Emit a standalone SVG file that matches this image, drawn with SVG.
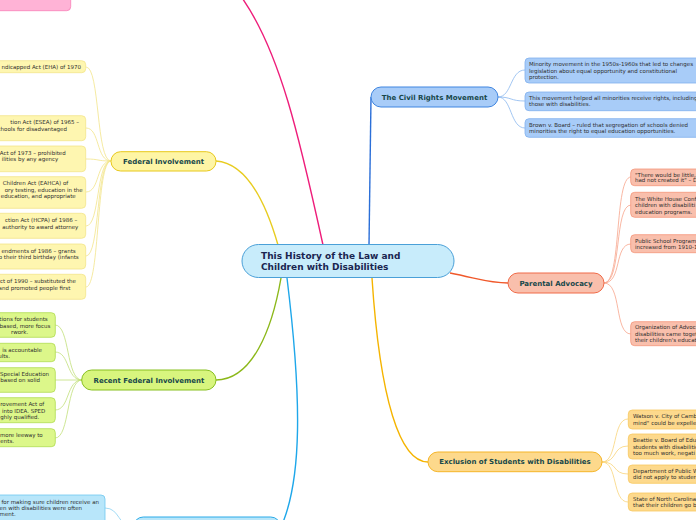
<svg xmlns="http://www.w3.org/2000/svg" width="696" height="520" viewBox="0 0 696 520">
<style>
.leaf{font-family:"DejaVu Sans",Verdana,sans-serif;font-size:5.5px;fill:#2e2e2e}
.br{font-family:"DejaVu Sans",Verdana,sans-serif;font-size:7px;font-weight:bold;fill:#17474a;text-anchor:middle}
.ctr{font-family:"DejaVu Sans",Verdana,sans-serif;font-size:9px;font-weight:bold;fill:#1a2550}
.e{text-anchor:end}
path{fill:none}
</style>
<rect width="696" height="520" fill="#ffffff"/>
<g id="connectors">
  <path d="M323,245 C300,140 280,50 240,-5" stroke="#ee1d7a" stroke-width="1.4"/>
  <path d="M369,245 C370,180 371,130 371,97" stroke="#2b6fd8" stroke-width="1.4"/>
  <path d="M278,245 C265,200 245,163 216,161" stroke="#e8cc20" stroke-width="1.4"/>
  <path d="M281,278 C272,330 252,380 216,380" stroke="#8cb81a" stroke-width="1.4"/>
  <path d="M287,278 C302,400 302,480 281,527" stroke="#1ea7ea" stroke-width="1.4"/>
  <path d="M372,278 C380,400 400,462 428,462" stroke="#f5b400" stroke-width="1.4"/>
  <path d="M450,273 C480,279 490,283 508,283" stroke="#f0582a" stroke-width="1.4"/>
  <g stroke="#8ab8ef" stroke-width="0.8">
    <path d="M498,97 C512,97 510,70 525,70"/>
    <path d="M498,97 C512,97 510,101 525,101"/>
    <path d="M498,97 C512,97 510,128 525,128"/>
  </g>
  <g stroke="#f7a58c" stroke-width="0.8">
    <path d="M604,283 C622,283 614,177 631,177"/>
    <path d="M604,283 C622,283 614,205 631,205"/>
    <path d="M604,283 C622,283 614,244 631,244"/>
    <path d="M604,283 C622,283 614,334 631,334"/>
  </g>
  <g stroke="#f9d47a" stroke-width="0.8">
    <path d="M602,462 C618,462 612,419 628,419"/>
    <path d="M602,462 C618,462 612,446 628,446"/>
    <path d="M602,462 C618,462 612,474 628,474"/>
    <path d="M602,462 C618,462 612,502 628,502"/>
  </g>
  <g stroke="#f3e58a" stroke-width="0.8">
    <path d="M111,161 C96,161 100,67 86,67"/>
    <path d="M111,161 C96,161 100,128 86,128"/>
    <path d="M111,161 C96,161 100,159 86,159"/>
    <path d="M111,161 C96,161 100,192 86,192"/>
    <path d="M111,161 C96,161 100,226 86,226"/>
    <path d="M111,161 C96,161 100,256 86,256"/>
    <path d="M111,161 C96,161 100,287 86,287"/>
  </g>
  <g stroke="#c2e07a" stroke-width="0.8">
    <path d="M82,380 C66,380 70,325 55,325"/>
    <path d="M82,380 C66,380 70,352 55,352"/>
    <path d="M82,380 H55"/>
    <path d="M82,380 C66,380 70,410 55,410"/>
    <path d="M82,380 C66,380 70,438 55,438"/>
  </g>
  <path d="M133,527 C118,527 120,508 105,508" stroke="#8ad2f2" stroke-width="0.8"/>
</g>

<g id="top-pink-leaf"><rect x="-50" y="-20" width="120.7" height="30.7" rx="4" fill="#ffb3d6" stroke="#f77fb8" stroke-width="0.8"/></g>

<g id="central">
  <rect x="242" y="244.5" width="212" height="33" rx="16.5" fill="#c8ecfb" stroke="#4aa0d8" stroke-width="1"/>
  <text class="ctr" x="261" y="259.3">This History of the Law and</text>
  <text class="ctr" x="261" y="269.6">Children with Disabilities</text>
</g>

<g id="civil-rights">
  <rect x="371" y="87" width="127" height="20" rx="10" fill="#a8ccf8" stroke="#3f85e0" stroke-width="1"/>
  <text class="br" x="434.5" y="99.5">The Civil Rights Movement</text>
</g>
<g id="civil-1">
  <rect x="525" y="58" width="200" height="25" rx="4" fill="#a8ccf8" stroke="#80b0ee" stroke-width="0.8"/>
  <text class="leaf" x="529" y="65.8">Minority movement in the 1950s-1960s that led to changes</text>
  <text class="leaf" x="529" y="72.5">legislation about equal opportunity and constitutional</text>
  <text class="leaf" x="529" y="79.1">protection.</text>
</g>
<g id="civil-2">
  <rect x="525" y="92" width="200" height="18.7" rx="4" fill="#a8ccf8" stroke="#80b0ee" stroke-width="0.8"/>
  <text class="leaf" x="529" y="99.5">This movement helped all minorities receive rights, including</text>
  <text class="leaf" x="529" y="106.1">those with disabilities.</text>
</g>
<g id="civil-3">
  <rect x="525" y="118.7" width="200" height="18.6" rx="4" fill="#a8ccf8" stroke="#80b0ee" stroke-width="0.8"/>
  <text class="leaf" x="529" y="126.5">Brown v. Board – ruled that segregation of schools denied</text>
  <text class="leaf" x="529" y="133.1">minorities the right to equal education opportunities.</text>
</g>

<g id="parental">
  <rect x="508" y="273" width="96" height="20" rx="10" fill="#f9bfac" stroke="#f06a48" stroke-width="1"/>
  <text class="br" x="556" y="285.5">Parental Advocacy</text>
</g>
<g id="parental-1">
  <rect x="630.7" y="169" width="100" height="16.7" rx="4" fill="#f9bfac" stroke="#f4967a" stroke-width="0.8"/>
  <text class="leaf" x="635" y="176.5">"There would be little,</text>
  <text class="leaf" x="635" y="181.8">had not created it" – D</text>
</g>
<g id="parental-2">
  <rect x="630.7" y="192.3" width="100" height="25" rx="4" fill="#f9bfac" stroke="#f4967a" stroke-width="0.8"/>
  <text class="leaf" x="635" y="200.5">The White House Conf</text>
  <text class="leaf" x="635" y="207.1">children with disabiliti</text>
  <text class="leaf" x="635" y="213.8">education programs.</text>
</g>
<g id="parental-3">
  <rect x="630.7" y="234.7" width="100" height="18" rx="4" fill="#f9bfac" stroke="#f4967a" stroke-width="0.8"/>
  <text class="leaf" x="635" y="242.5">Public School Program</text>
  <text class="leaf" x="635" y="248.5">increased from 1910-1</text>
</g>
<g id="parental-4">
  <rect x="630.7" y="321.7" width="100" height="24" rx="4" fill="#f9bfac" stroke="#f4967a" stroke-width="0.8"/>
  <text class="leaf" x="635" y="329.1">Organization of Advoc</text>
  <text class="leaf" x="635" y="335.8">disabilities came toget</text>
  <text class="leaf" x="635" y="342.1">their children's educat</text>
</g>

<g id="exclusion">
  <rect x="428" y="452" width="174" height="19.7" rx="9.8" fill="#fdd98c" stroke="#f5b529" stroke-width="1"/>
  <text class="br" x="515" y="464.2">Exclusion of Students with Disabilities</text>
</g>
<g id="exclusion-1">
  <rect x="628.3" y="410" width="100" height="19" rx="4" fill="#fdd98c" stroke="#f7c860" stroke-width="0.8"/>
  <text class="leaf" x="633" y="417.8">Watson v. City of Camb</text>
  <text class="leaf" x="633" y="424.5">mind" could be expelle</text>
</g>
<g id="exclusion-2">
  <rect x="628.3" y="434" width="100" height="25" rx="4" fill="#fdd98c" stroke="#f7c860" stroke-width="0.8"/>
  <text class="leaf" x="633" y="442.1">Beattie v. Board of Edu</text>
  <text class="leaf" x="633" y="448.8">students with disabilitie</text>
  <text class="leaf" x="633" y="455.1">too much work, negati</text>
</g>
<g id="exclusion-3">
  <rect x="628.3" y="465" width="100" height="18.3" rx="4" fill="#fdd98c" stroke="#f7c860" stroke-width="0.8"/>
  <text class="leaf" x="633" y="472.5">Department of Public W</text>
  <text class="leaf" x="633" y="479.1">did not apply to studen</text>
</g>
<g id="exclusion-4">
  <rect x="628.3" y="493" width="100" height="18" rx="4" fill="#fdd98c" stroke="#f7c860" stroke-width="0.8"/>
  <text class="leaf" x="633" y="500.8">State of North Carolina</text>
  <text class="leaf" x="633" y="507.1">that their children go b</text>
</g>

<g id="federal">
  <rect x="111" y="151.7" width="105" height="19.3" rx="9.6" fill="#fef5a5" stroke="#e8c81a" stroke-width="1"/>
  <text class="br" x="163.5" y="163.8">Federal Involvement</text>
</g>
<g id="federal-1">
  <rect x="-60" y="60.7" width="145.7" height="12" rx="4" fill="#fef6b0" stroke="#f3e58a" stroke-width="0.8"/>
  <text class="leaf e" x="81" y="69.1">ndicapped Act (EHA) of 1970</text>
</g>
<g id="federal-2">
  <rect x="-60" y="115.7" width="145.7" height="25" rx="4" fill="#fef6b0" stroke="#f3e58a" stroke-width="0.8"/>
  <text class="leaf e" x="79" y="123.8">tion Act (ESEA) of 1965 –</text>
  <text class="leaf e" x="67" y="130.5">chools for disadvantaged</text>
</g>
<g id="federal-3">
  <rect x="-60" y="146" width="145.7" height="25.7" rx="4" fill="#fef6b0" stroke="#f3e58a" stroke-width="0.8"/>
  <text class="leaf e" x="65.7" y="154.5">Act of 1973 – prohibited</text>
  <text class="leaf e" x="58.3" y="160.8">ilities by any agency</text>
</g>
<g id="federal-4">
  <rect x="-60" y="176.7" width="145.7" height="31.6" rx="4" fill="#fef6b0" stroke="#f3e58a" stroke-width="0.8"/>
  <text class="leaf e" x="68.3" y="185.1">Children Act (EAHCA) of</text>
  <text class="leaf e" x="82.7" y="191.8">ory testing, education in the</text>
  <text class="leaf e" x="75.7" y="197.8">education, and appropriate</text>
</g>
<g id="federal-5">
  <rect x="-60" y="213.3" width="145.7" height="25" rx="4" fill="#fef6b0" stroke="#f3e58a" stroke-width="0.8"/>
  <text class="leaf e" x="77.3" y="221.8">ction Act (HCPA) of 1986 –</text>
  <text class="leaf e" x="78.3" y="228.8">authority to award attorney</text>
</g>
<g id="federal-6">
  <rect x="-60" y="244" width="145.7" height="25" rx="4" fill="#fef6b0" stroke="#f3e58a" stroke-width="0.8"/>
  <text class="leaf e" x="75.7" y="252.8">endments of 1986 – grants</text>
  <text class="leaf e" x="78.7" y="258.8">o their third birthday (infants</text>
</g>
<g id="federal-7">
  <rect x="-60" y="274.3" width="145.7" height="25" rx="4" fill="#fef6b0" stroke="#f3e58a" stroke-width="0.8"/>
  <text class="leaf e" x="76" y="282.8">ct of 1990 – substituted the</text>
  <text class="leaf e" x="70.3" y="289.5">and promoted people first</text>
</g>

<g id="recent">
  <rect x="81.7" y="370" width="134.3" height="20" rx="10" fill="#d8f57e" stroke="#88c020" stroke-width="1"/>
  <text class="br" x="149" y="382.5">Recent Federal Involvement</text>
</g>
<g id="recent-1">
  <rect x="-90" y="312.7" width="145.3" height="24.6" rx="4" fill="#dcf78a" stroke="#b0dc50" stroke-width="0.8"/>
  <text class="leaf e" x="47.7" y="320.8">tions for students</text>
  <text class="leaf e" x="50.3" y="327.5">based, more focus</text>
  <text class="leaf e" x="28.3" y="334.1">rwork.</text>
</g>
<g id="recent-2">
  <rect x="-90" y="343.3" width="145.3" height="18.4" rx="4" fill="#dcf78a" stroke="#b0dc50" stroke-width="0.8"/>
  <text class="leaf e" x="42" y="351.8">is accountable</text>
  <text class="leaf e" x="10" y="357.8">ults.</text>
</g>
<g id="recent-3">
  <rect x="-90" y="367.7" width="145.3" height="24.6" rx="4" fill="#dcf78a" stroke="#b0dc50" stroke-width="0.8"/>
  <text class="leaf e" x="49" y="375.8">Special Education</text>
  <text class="leaf e" x="40" y="381.8">based on solid</text>
</g>
<g id="recent-4">
  <rect x="-90" y="397.7" width="145.3" height="25" rx="4" fill="#dcf78a" stroke="#b0dc50" stroke-width="0.8"/>
  <text class="leaf e" x="44.3" y="405.8">rovement Act of</text>
  <text class="leaf e" x="45.3" y="412.5">into IDEA. SPED</text>
  <text class="leaf e" x="39.3" y="418.8">ghly qualified.</text>
</g>
<g id="recent-5">
  <rect x="-90" y="428.7" width="145.3" height="18" rx="4" fill="#dcf78a" stroke="#b0dc50" stroke-width="0.8"/>
  <text class="leaf e" x="42.7" y="436.8">more leeway to</text>
  <text class="leaf e" x="14" y="442.8">ents.</text>
</g>

<g id="bottom-branch">
  <rect x="133.3" y="517" width="147.4" height="20" rx="10" fill="#b8e6fa" stroke="#2aaae8" stroke-width="1"/>
</g>
<g id="bottom-leaf">
  <rect x="-100" y="495" width="205" height="30" rx="4" fill="#b8e6fa" stroke="#70c8f0" stroke-width="0.8"/>
  <text class="leaf e" x="99" y="504.1">for making sure children receive an</text>
  <text class="leaf e" x="82" y="510.1">en with disabilities were often</text>
  <text class="leaf e" x="15.7" y="516.1">ment.</text>
</g>
</svg>
